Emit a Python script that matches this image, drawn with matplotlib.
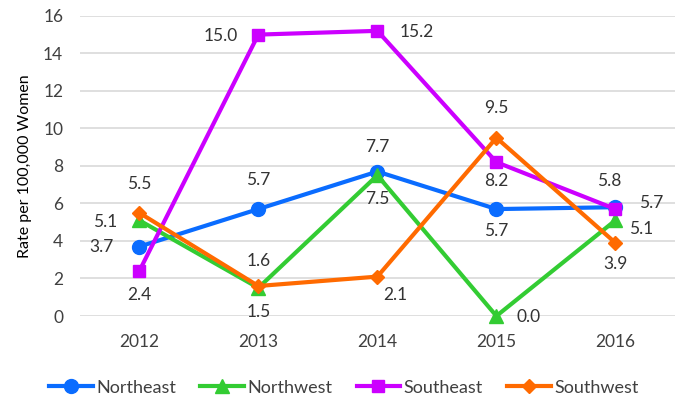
import matplotlib.pyplot as plt

plt.rcParams['font.family'] = ['Lato', 'DejaVu Sans']

years = ['2012', '2013', '2014', '2015', '2016']
northeast = [3.7, 5.7, 7.7, 5.7, 5.8]
northwest = [5.1, 1.5, 7.5, 0.0, 5.1]
southeast = [2.4, 15.0, 15.2, 8.2, 5.7]
southwest = [5.5, 1.6, 2.1, 9.5, 3.9]

# label offsets (pixels) for each point's value text
ne_off = [(-38, 0), (0, 29), (0, 25), (0, -22), (-6, 26)]
nw_off = [(-34, -2), (0, -24), (0, -24), (32, -1), (26, -9)]
se_off = [(0, -24), (-38, -1), (39, -1), (0, -19), (36, 6)]
sw_off = [(0, 29), (0, 25), (18, -18), (0, 30), (0, -21)]

series = [
    ('Northeast', northeast, '#0A6CFF', 'o', 10, ne_off),
    ('Northwest', northwest, '#33CC33', '^', 10, nw_off),
    ('Southeast', southeast, '#CC00FF', 's', 9, se_off),
    ('Southwest', southwest, '#FF6A00', 'D', 7, sw_off),
]

fig = plt.figure(figsize=(6.88, 3.96), dpi=100)
ax = fig.add_axes([0.116, 0.202, 0.865, 0.758])

x = range(len(years))
for name, vals, col, mk, ms, offs in series:
    ax.plot(x, vals, color=col, marker=mk, markersize=ms, linewidth=3,
            label=name, clip_on=False)
    for i, v in enumerate(vals):
        ax.annotate(f'{v:.1f}', (i, v), xytext=offs[i], textcoords='offset pixels',
                    ha='center', va='center', fontsize=12.5, color='#333333')

ax.set_xlim(-0.5, 4.5)
ax.set_ylim(0, 16)
ax.set_yticks(range(0, 17, 2))
ax.set_xticks(list(x))
ax.set_xticklabels(years)
ax.tick_params(length=0, labelsize=12.5, labelcolor='#404040')
ax.tick_params(axis='x', pad=13)
ax.tick_params(axis='y', pad=12)
ax.grid(axis='y', color='#D9D9D9', linewidth=1.2)
ax.set_axisbelow(True)
for s in ax.spines.values():
    s.set_visible(False)
ax.set_ylabel('Rate per 100,000 Women', fontsize=11.5, color='#000000', labelpad=8)

fig.legend(loc='lower center', ncol=4, frameon=False, fontsize=13,
           bbox_to_anchor=(0.5, -0.04), handlelength=2.4, handletextpad=0.2,
           columnspacing=1.35, labelcolor='#404040')

fig.savefig('out.png', dpi=100)
